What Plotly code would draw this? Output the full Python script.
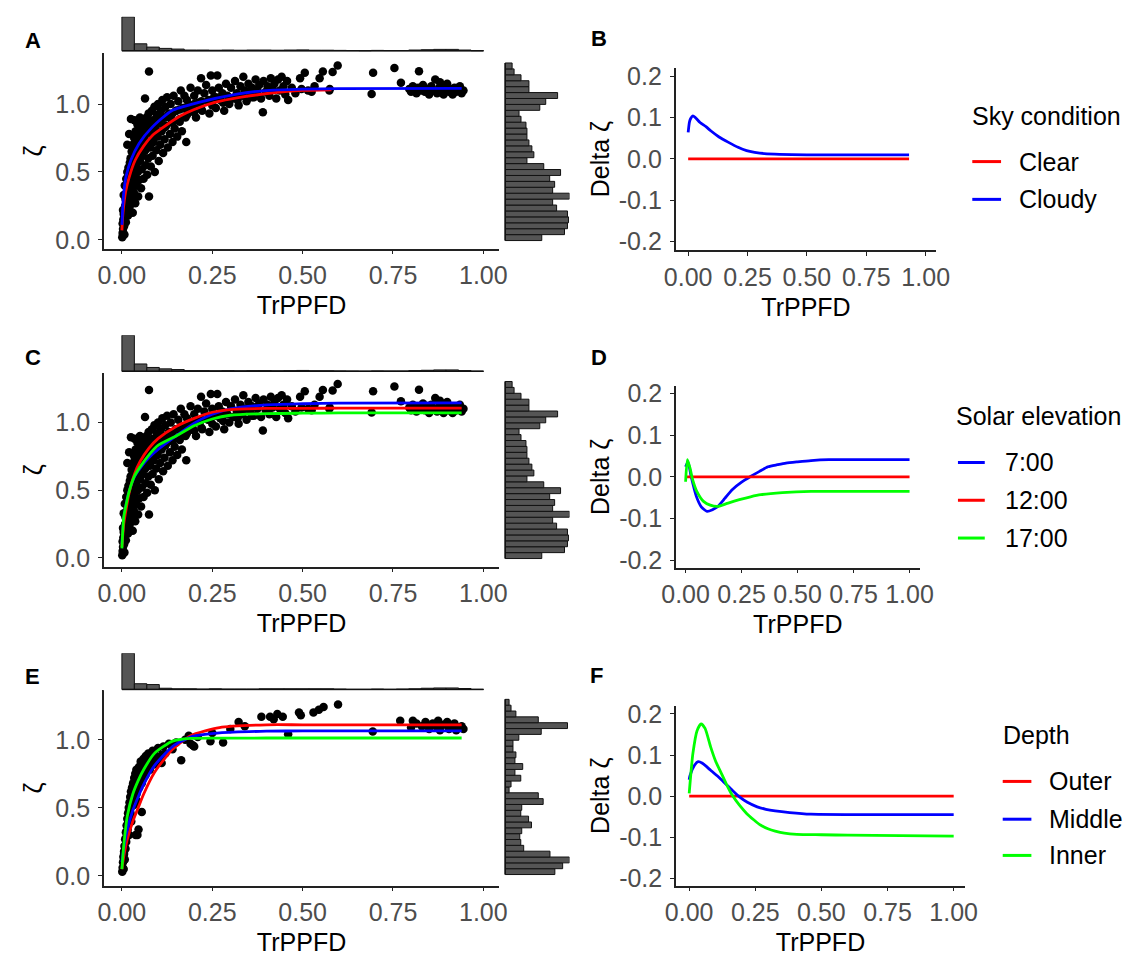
import plotly.graph_objects as go

W, H = 1136, 965
FONT = "Liberation Sans, Arial, sans-serif"
FS = 25
RED, BLUE, GREEN = "#FF0000", "#0000FF", "#00FF00"

# ---------------- data: scatter (panels A and C, all observations) ----------------
ALL_X = [0.001, 0.002, 0.003, 0.002, 0.004, 0.005, 0.003, 0.006, 0.007, 0.008, 0.009, 0.010, 0.011, 0.012,
         0.014, 0.015, 0.016, 0.017, 0.018, 0.019, 0.020, 0.021, 0.022, 0.023, 0.024, 0.025, 0.026, 0.027, 0.028, 0.029, 0.030, 0.030,
         0.020, 0.025, 0.015, 0.035,
         0.032, 0.033, 0.034, 0.035, 0.036, 0.037, 0.038, 0.039, 0.040, 0.041, 0.042, 0.043, 0.044, 0.045, 0.046, 0.047, 0.048, 0.050, 0.050,
         0.052, 0.053, 0.054, 0.055, 0.057, 0.058, 0.060, 0.061, 0.062, 0.064, 0.065, 0.066, 0.068, 0.069, 0.070, 0.071, 0.073, 0.074, 0.075, 0.075, 0.076, 0.078, 0.080,
         0.082, 0.083, 0.085, 0.086, 0.088, 0.090, 0.091, 0.093, 0.095, 0.097, 0.099, 0.100, 0.102, 0.104, 0.106, 0.108, 0.110, 0.112, 0.114, 0.116, 0.118, 0.120,
         0.122, 0.125, 0.127, 0.130, 0.133, 0.135, 0.138, 0.140, 0.143, 0.146, 0.150, 0.153, 0.156, 0.160, 0.163, 0.166, 0.170, 0.173, 0.176, 0.178, 0.180,
         0.185, 0.190, 0.195, 0.200, 0.205, 0.210, 0.215, 0.219, 0.222, 0.228, 0.233, 0.238, 0.242, 0.246, 0.250, 0.255, 0.260, 0.264, 0.268, 0.272, 0.278, 0.283, 0.288, 0.292, 0.297,
         0.302, 0.308, 0.313, 0.318, 0.323, 0.328, 0.333, 0.336, 0.340, 0.345, 0.350, 0.355, 0.360, 0.365, 0.370, 0.375, 0.380, 0.385, 0.390, 0.392, 0.398, 0.403, 0.408, 0.412, 0.417, 0.422, 0.427, 0.432, 0.437, 0.442, 0.447, 0.452, 0.457, 0.460,
         0.470, 0.480, 0.493, 0.497, 0.506, 0.515, 0.525, 0.533, 0.547, 0.556, 0.574, 0.583, 0.597, 0.575,
         0.691, 0.695, 0.754, 0.772, 0.822,
         0.795, 0.800, 0.805, 0.810, 0.815, 0.820, 0.827, 0.833, 0.838, 0.845, 0.850, 0.856, 0.862, 0.867, 0.872, 0.878, 0.880, 0.885, 0.890, 0.896, 0.900, 0.905, 0.910, 0.915, 0.920, 0.925, 0.930, 0.935, 0.940, 0.945,
         0.005, 0.008, 0.012, 0.015, 0.018, 0.022, 0.026, 0.030, 0.035, 0.040, 0.045, 0.050, 0.055, 0.060, 0.065, 0.070, 0.080, 0.090, 0.100, 0.110, 0.120, 0.130, 0.140, 0.150, 0.160, 0.170, 0.180, 0.190, 0.200, 0.210, 0.220, 0.240, 0.260,
         0.010, 0.020, 0.030, 0.040, 0.050, 0.060, 0.070, 0.080, 0.090, 0.100, 0.120, 0.140, 0.160, 0.180, 0.200, 0.220, 0.250, 0.280, 0.320, 0.360]
ALL_Y = [0.02, 0.05, 0.08, 0.12, 0.15, 0.19, 0.22, 0.10, 0.04, 0.17, 0.25, 0.30, 0.13, 0.21,
         0.35, 0.28, 0.42, 0.18, 0.50, 0.32, 0.45, 0.24, 0.55, 0.38, 0.60, 0.48, 0.30, 0.65, 0.52, 0.42, 0.70, 0.20,
         0.78, 0.89, 0.70, 0.88,
         0.58, 0.35, 0.75, 0.46, 0.66, 0.27, 0.80, 0.55, 0.40, 0.72, 0.62, 0.85, 0.50, 0.32, 0.78, 0.68, 0.44, 0.90, 0.58,
         0.82, 0.38, 0.70, 0.52, 0.88, 0.62, 0.45, 0.76, 0.84, 1.04, 0.66, 0.55, 0.90, 0.72, 0.48, 0.80, 0.60, 0.93, 1.24, 0.32, 0.86, 0.68, 0.54,
         0.78, 0.95, 0.62, 0.88, 0.72, 0.98, 0.50, 0.83, 0.66, 0.92, 0.76, 1.00, 0.58, 0.86, 0.70, 0.95, 0.80, 1.03, 0.64, 0.90, 0.74, 0.98,
         0.84, 1.05, 0.68, 0.93, 0.78, 1.00, 0.88, 0.72, 1.06, 0.82, 0.95, 0.76, 1.02, 0.87, 1.10, 0.80, 0.97, 1.06, 0.90, 0.72, 1.03,
         0.94, 1.12, 0.98, 1.06, 0.90, 1.10, 1.00, 1.19, 0.95, 1.08, 1.14, 1.02, 0.93, 1.21, 1.10, 1.05, 0.97, 1.21, 1.12, 1.03, 1.08, 0.95, 1.15, 1.06, 1.00,
         1.12, 1.04, 1.17, 1.08, 0.99, 1.13, 1.06, 1.20, 1.10, 1.02, 1.15, 1.08, 1.12, 1.05, 1.18, 1.10, 1.14, 1.04, 0.94, 1.17, 1.09, 1.13, 1.06, 1.19, 1.11, 1.15, 1.04, 1.18, 1.10, 1.20, 1.13, 1.07, 1.17, 1.03,
         1.12, 1.08, 1.19, 1.11, 1.23, 1.10, 1.09, 1.13, 1.19, 1.24, 1.10, 1.235, 1.283, 1.11,
         1.073, 1.23, 1.266, 1.157, 1.242,
         1.11, 1.09, 1.13, 1.10, 1.08, 1.12, 1.10, 1.14, 1.09, 1.11, 1.07, 1.13, 1.10, 1.18, 1.08, 1.12, 1.16, 1.10, 1.07, 1.13, 1.15, 1.09, 1.11, 1.07, 1.12, 1.09, 1.10, 1.13, 1.08, 1.10,
         0.33, 0.40, 0.45, 0.50, 0.53, 0.57, 0.60, 0.62, 0.65, 0.68, 0.70, 0.72, 0.74, 0.76, 0.78, 0.80, 0.82, 0.85, 0.87, 0.89, 0.90, 0.92, 0.93, 0.95, 0.96, 0.97, 0.98, 0.99, 1.00, 1.01, 1.02, 1.03, 1.05,
         0.25, 0.40, 0.50, 0.57, 0.62, 0.67, 0.70, 0.73, 0.76, 0.79, 0.83, 0.86, 0.89, 0.92, 0.94, 0.96, 0.99, 1.01, 1.03, 1.05]

# ---------------- data: scatter (panel E) ----------------
E_X = [0.001, 0.002, 0.003, 0.004, 0.005, 0.006, 0.007, 0.008, 0.009, 0.010, 0.011, 0.012, 0.013, 0.014, 0.015, 0.016, 0.017, 0.018, 0.019, 0.020,
       0.021, 0.022, 0.023, 0.024, 0.025, 0.026, 0.027, 0.028, 0.030, 0.031, 0.033, 0.034, 0.035, 0.037, 0.038, 0.039, 0.040, 0.042, 0.043, 0.044,
       0.046, 0.047, 0.050, 0.052, 0.055, 0.055, 0.058, 0.060, 0.063, 0.066, 0.070, 0.073, 0.077, 0.080, 0.085, 0.090, 0.095, 0.100, 0.105, 0.110,
       0.115, 0.120, 0.130, 0.140, 0.150, 0.164, 0.175, 0.185, 0.190, 0.196, 0.200, 0.210, 0.245, 0.280, 0.250, 0.300, 0.323, 0.340, 0.386, 0.410,
       0.420, 0.430, 0.445, 0.460, 0.490, 0.495, 0.530, 0.545, 0.558, 0.598, 0.694, 0.770, 0.805, 0.830, 0.840, 0.850, 0.860, 0.870, 0.875, 0.880,
       0.890, 0.900, 0.905, 0.910, 0.920, 0.925, 0.930, 0.940, 0.945, 0.800, 0.815,
       0.006, 0.012, 0.018, 0.024, 0.032, 0.040, 0.048, 0.056, 0.065, 0.075, 0.088, 0.100, 0.112]
E_Y = [0.03, 0.06, 0.10, 0.14, 0.05, 0.18, 0.22, 0.12, 0.27, 0.20, 0.32, 0.25, 0.37, 0.30, 0.42, 0.34, 0.46, 0.40, 0.50, 0.30,
       0.54, 0.45, 0.58, 0.50, 0.62, 0.40, 0.56, 0.65, 0.60, 0.68, 0.52, 0.72, 0.64, 0.75, 0.30, 0.68, 0.78, 0.55, 0.30, 0.72,
       0.34, 0.80, 0.76, 0.84, 0.68, 0.47, 0.80, 0.86, 0.74, 0.88, 0.82, 0.90, 0.78, 0.86, 0.92, 0.82, 0.88, 0.94, 0.86, 0.83,
       0.95, 0.90, 0.97, 0.93, 0.98, 0.85, 1.00, 1.03, 0.97, 0.96, 0.95, 1.02, 0.99, 0.98, 1.05, 1.08, 1.13, 1.10, 1.17, 1.17,
       1.15, 1.19, 1.17, 1.04, 1.20, 1.18, 1.20, 1.22, 1.24, 1.26, 1.06, 1.14, 1.14, 1.10, 1.13, 1.08, 1.12, 1.10, 1.14, 1.07,
       1.11, 1.13, 1.08, 1.10, 1.12, 1.07, 1.09, 1.10, 1.08, 1.09, 1.12,
       0.16, 0.28, 0.38, 0.46, 0.54, 0.60, 0.65, 0.70, 0.74, 0.78, 0.82, 0.86, 0.89]

# ---------------- data: fitted curves ----------------
A_CLEAR_X = [0, 0.003, 0.01, 0.02, 0.037, 0.06, 0.085, 0.115, 0.16, 0.2, 0.255, 0.33, 0.43, 0.5, 0.58]
A_CLEAR_Y = [0.07, 0.2, 0.35, 0.46, 0.588, 0.69, 0.77, 0.83, 0.91, 0.96, 1.01, 1.05, 1.085, 1.1, 1.105]
A_CLOUDY_X = [0, 0.002, 0.005, 0.0116, 0.025, 0.0475, 0.084, 0.138, 0.21, 0.318, 0.39, 0.5, 0.6, 0.94]
A_CLOUDY_Y = [0.11, 0.225, 0.346, 0.467, 0.588, 0.71, 0.83, 0.951, 1.01, 1.073, 1.097, 1.11, 1.113, 1.115]

C_X = [0, 0.005, 0.011, 0.02, 0.035, 0.05, 0.075, 0.1, 0.15, 0.2, 0.25, 0.3, 0.4, 0.5, 0.6, 0.94]
C_0700_Y = [0.10, 0.29, 0.385, 0.49, 0.60, 0.66, 0.74, 0.80, 0.90, 0.995, 1.06, 1.10, 1.13, 1.138, 1.143, 1.145]
C_1200_Y = [0.08, 0.25, 0.35, 0.48, 0.62, 0.71, 0.81, 0.88, 0.97, 1.03, 1.075, 1.095, 1.103, 1.104, 1.105, 1.105]
C_1700_Y = [0.07, 0.30, 0.385, 0.49, 0.605, 0.67, 0.76, 0.83, 0.90, 0.975, 1.025, 1.053, 1.065, 1.068, 1.07, 1.07]

E_CX = [0, 0.005, 0.015, 0.03, 0.045, 0.06, 0.09, 0.14, 0.19, 0.27, 0.4, 0.5, 0.94]
E_OUTER_Y = [0.05, 0.14, 0.27, 0.40, 0.50, 0.60, 0.76, 0.93, 1.03, 1.09, 1.11, 1.11, 1.11]
E_MIDDLE_Y = [0.10, 0.20, 0.34, 0.48, 0.58, 0.67, 0.81, 0.95, 1.02, 1.05, 1.063, 1.065, 1.065]
E_INNER_Y = [0.05, 0.22, 0.44, 0.60, 0.70, 0.78, 0.90, 0.99, 1.01, 1.012, 1.013, 1.013, 1.013]

# ---------------- data: differences (Delta zeta) ----------------
B_CLEAR_X = [0, 0.93]
B_CLEAR_Y = [0, 0]
B_CLOUDY_X = [0, 0.005, 0.01, 0.02, 0.03, 0.05, 0.075, 0.095, 0.13, 0.17, 0.21, 0.246, 0.28, 0.32, 0.5, 0.93]
B_CLOUDY_Y = [0.064, 0.088, 0.097, 0.104, 0.1, 0.088, 0.078, 0.068, 0.053, 0.04, 0.028, 0.02, 0.016, 0.013, 0.01, 0.01]

D_0700_X = [0, 0.011, 0.025, 0.048, 0.07, 0.096, 0.12, 0.144, 0.175, 0.208, 0.25, 0.288, 0.33, 0.368, 0.41, 0.448, 0.5, 0.56, 0.64, 1.0]
D_0700_Y = [0.024, 0.035, 0.0, -0.047, -0.072, -0.083, -0.079, -0.071, -0.052, -0.031, -0.013, 0.0, 0.013, 0.024, 0.029, 0.033, 0.036, 0.039, 0.041, 0.041]
D_1200_X = [0, 1.0]
D_1200_Y = [0, 0]
D_1700_X = [0, 0.008, 0.02, 0.032, 0.05, 0.08, 0.11, 0.144, 0.19, 0.24, 0.29, 0.336, 0.432, 0.56, 0.7, 1.0]
D_1700_Y = [-0.012, 0.041, 0.02, -0.008, -0.035, -0.059, -0.068, -0.071, -0.063, -0.055, -0.048, -0.043, -0.038, -0.035, -0.035, -0.035]

F_OUTER_X = [0, 1.0]
F_OUTER_Y = [0, 0]
F_MIDDLE_X = [0, 0.003, 0.02, 0.034, 0.05, 0.081, 0.11, 0.136, 0.16, 0.19, 0.22, 0.257, 0.29, 0.325, 0.38, 0.46, 0.6, 1.0]
F_MIDDLE_Y = [0.04, 0.05, 0.075, 0.084, 0.08, 0.063, 0.047, 0.031, 0.016, -0.002, -0.015, -0.026, -0.032, -0.036, -0.04, -0.044, -0.045, -0.045]
F_INNER_X = [0, 0.014, 0.03, 0.045, 0.06, 0.081, 0.1, 0.122, 0.14, 0.163, 0.19, 0.217, 0.245, 0.271, 0.3, 0.325, 0.36, 0.407, 0.5, 0.6, 1.0]
F_INNER_Y = [0.007, 0.104, 0.16, 0.176, 0.165, 0.12, 0.085, 0.055, 0.03, 0.002, -0.022, -0.042, -0.058, -0.071, -0.08, -0.085, -0.09, -0.093, -0.094, -0.095, -0.0975]

# ---------------- data: marginal histograms ----------------
TOP_BIN_START, TOP_BIN_WIDTH = 0.0, 0.0345
TOP_COUNTS_ALL = [206, 42, 22, 14, 10, 4, 4, 3, 4, 3, 4, 4, 3, 4, 5, 3, 3, 2, 1, 0, 2, 1, 1, 4, 6, 8, 8, 4, 0]
TOP_COUNTS_E = [128, 20, 17, 4, 2, 2, 1, 2, 1, 1, 1, 2, 2, 2, 2, 2, 2, 1, 0, 0, 1, 0, 1, 2, 4, 5, 5, 3, 0]
RIGHT_BIN_START_ALL, RIGHT_BIN_WIDTH_ALL = -0.005, 0.04357
RIGHT_COUNTS_ALL = [37, 60, 63, 64, 63, 52, 48, 65, 48, 50, 45, 56, 39, 22, 29, 27, 24, 22, 22, 21, 16, 14, 35, 41, 53, 24, 24, 16, 9, 7]
RIGHT_BIN_START_E, RIGHT_BIN_WIDTH_E = 0.01, 0.0429
RIGHT_COUNTS_E = [51, 59, 66, 46, 19, 16, 15, 17, 27, 24, 16, 17, 39, 34, 4, 6, 16, 10, 18, 10, 11, 8, 8, 14, 37, 64, 34, 11, 6, 4]

# ---------------- tick labels & legend levels ----------------
X_TICKS = [0, 0.25, 0.5, 0.75, 1.0]
X_TICK_LABELS = ["0.00", "0.25", "0.50", "0.75", "1.00"]
Z_TICKS = [0, 0.5, 1.0]
Z_TICK_LABELS = ["0.0", "0.5", "1.0"]
D_TICKS = [-0.2, -0.1, 0, 0.1, 0.2]
D_TICK_LABELS = ["-0.2", "-0.1", "0.0", "0.1", "0.2"]
SKY_LEVELS = ["Clear", "Cloudy"]
SOLAR_LEVELS = ["7:00", "12:00", "17:00"]
DEPTH_LEVELS = ["Outer", "Middle", "Inner"]


def px(p):
    return p / W


def py(p):
    return 1 - p / H


fig = go.Figure()
layout = dict(width=W, height=H, margin=dict(l=0, r=0, t=0, b=0),
              paper_bgcolor="white", plot_bgcolor="white", showlegend=False,
              font=dict(family=FONT, size=FS, color="black"))
annotations, shapes = [], []

AXLINE = dict(showline=True, linecolor="#222222", linewidth=1.5, ticks="outside", ticklen=4,
              tickcolor="#222222", tickwidth=1.3, showgrid=False, zeroline=False,
              tickfont=dict(family=FONT, size=FS, color="#4D4D4D"))


def names(i):
    return ("xaxis" if i == 1 else f"xaxis{i}", "yaxis" if i == 1 else f"yaxis{i}",
            "x" if i == 1 else f"x{i}", "y" if i == 1 else f"y{i}")


SC_X = (92.1, 497.5)
SC_XR = [-0.05, 1.044]
RH_X = (503.6, 569.5)

rows = [
    dict(sc_y=(46.7, 245), sc_yr=[-0.065, 1.375], th=(10, 44.3), top=TOP_COUNTS_ALL,
         right=RIGHT_COUNTS_ALL, rstart=RIGHT_BIN_START_ALL, rwidth=RIGHT_BIN_WIDTH_ALL,
         sx=ALL_X, sy=ALL_Y,
         curves=[(A_CLEAR_X, A_CLEAR_Y, RED), (A_CLOUDY_X, A_CLOUDY_Y, BLUE)],
         dl_x=(678.3, 945.7), dl_y=(61.7, 246.7), dl_xr=[-0.053, 1.045], dl_yr=[-0.221, 0.22],
         deltas=[(B_CLEAR_X, B_CLEAR_Y, RED), (B_CLOUDY_X, B_CLOUDY_Y, BLUE)],
         lab=("A", 19, 33.5), lab2=("B", 600, 32.3)),
    dict(sc_y=(370.7, 567.3), sc_yr=[-0.065, 1.367], th=(332.7, 369.3), top=TOP_COUNTS_ALL,
         right=RIGHT_COUNTS_ALL, rstart=RIGHT_BIN_START_ALL, rwidth=RIGHT_BIN_WIDTH_ALL,
         sx=ALL_X, sy=ALL_Y,
         curves=[(C_X, C_0700_Y, BLUE), (C_X, C_1200_Y, RED), (C_X, C_1700_Y, GREEN)],
         dl_x=(678.7, 928.5), dl_y=(384.3, 568.3), dl_xr=[-0.043, 1.045], dl_yr=[-0.218, 0.2175],
         deltas=[(D_0700_X, D_0700_Y, BLUE), (D_1200_X, D_1200_Y, RED), (D_1700_X, D_1700_Y, GREEN)],
         lab=("C", 19.6, 355), lab2=("D", 600, 355)),
    dict(sc_y=(692.7, 890.7), sc_yr=[-0.072, 1.363], th=(655, 691.7), top=TOP_COUNTS_E,
         right=RIGHT_COUNTS_E, rstart=RIGHT_BIN_START_E, rwidth=RIGHT_BIN_WIDTH_E,
         sx=E_X, sy=E_Y,
         curves=[(E_CX, E_OUTER_Y, RED), (E_CX, E_MIDDLE_Y, BLUE), (E_CX, E_INNER_Y, GREEN)],
         dl_x=(678.7, 975.1), dl_y=(708.3, 890.7), dl_xr=[-0.05, 1.043], dl_yr=[-0.218, 0.22],
         deltas=[(F_OUTER_X, F_OUTER_Y, RED), (F_MIDDLE_X, F_MIDDLE_Y, BLUE), (F_INNER_X, F_INNER_Y, GREEN)],
         lab=("E", 19, 679), lab2=("F", 597, 678)),
]

HIST_FILL = "#555555"
for r, row in enumerate(rows):
    s, t, rr, d = 4 * r + 1, 4 * r + 2, 4 * r + 3, 4 * r + 4
    # ---- scatter panel ----
    xa, ya, xr, yr = names(s)
    layout[xa] = dict(AXLINE, domain=[px(SC_X[0]), px(SC_X[1])], range=SC_XR, anchor=yr,
                      tickvals=X_TICKS, ticktext=X_TICK_LABELS, ticklabelstandoff=0,
                      title=dict(text="TrPPFD", font=dict(size=FS, color="black"), standoff=8))
    layout[ya] = dict(AXLINE, domain=[py(row["sc_y"][1]), py(row["sc_y"][0])], range=row["sc_yr"],
                      anchor=xr, tickvals=Z_TICKS, ticktext=Z_TICK_LABELS, ticklabelstandoff=3,
                      title=dict(text="ζ", font=dict(size=FS, color="black"), standoff=6))
    fig.add_trace(go.Scatter(x=row["sx"], y=row["sy"], mode="markers", xaxis=xr, yaxis=yr,
                             marker=dict(size=8.5, color="black"), hoverinfo="skip"))
    for cx, cy, col in row["curves"]:
        fig.add_trace(go.Scatter(x=cx, y=cy, mode="lines", xaxis=xr, yaxis=yr,
                                 line=dict(color=col, width=2.8, shape="spline", smoothing=0.6)))

    # ---- top marginal histogram ----
    xa, ya, xr, yr = names(t)
    counts = row["top"]
    cmax = max(counts)
    top_px, base_px = row["th"]
    ppc = (base_px - top_px) / cmax
    pad = 1.5
    layout[xa] = dict(domain=[px(SC_X[0]), px(SC_X[1])], range=SC_XR, anchor=yr, visible=False)
    layout[ya] = dict(domain=[py(base_px + pad), py(top_px)], range=[-pad / ppc, cmax], anchor=xr, visible=False)
    centers = [TOP_BIN_START + TOP_BIN_WIDTH * (i + 0.5) for i in range(len(counts))]
    fig.add_trace(go.Bar(x=centers, y=counts, width=TOP_BIN_WIDTH, xaxis=xr, yaxis=yr,
                         marker=dict(color=HIST_FILL, line=dict(color="#111111", width=1))))
    edge0, edge1 = TOP_BIN_START, TOP_BIN_START + TOP_BIN_WIDTH * len(counts)
    fig.add_trace(go.Scatter(x=[edge0, edge1], y=[0, 0], mode="lines", xaxis=xr, yaxis=yr,
                             line=dict(color="#111111", width=1.5)))

    # ---- right marginal histogram ----
    xa, ya, xr, yr = names(rr)
    counts = row["right"]
    cmax = max(counts)
    ppc = (RH_X[1] - RH_X[0]) / cmax
    layout[xa] = dict(domain=[px(RH_X[0] - pad), px(RH_X[1])], range=[-pad / ppc, cmax], anchor=yr, visible=False)
    layout[ya] = dict(domain=[py(row["sc_y"][1]), py(row["sc_y"][0])], range=row["sc_yr"], anchor=xr, visible=False)
    centers = [row["rstart"] + row["rwidth"] * (i + 0.5) for i in range(len(counts))]
    fig.add_trace(go.Bar(y=centers, x=counts, width=row["rwidth"], orientation="h", xaxis=xr, yaxis=yr,
                         marker=dict(color=HIST_FILL, line=dict(color="#111111", width=1))))
    edge0, edge1 = row["rstart"], row["rstart"] + row["rwidth"] * len(counts)
    fig.add_trace(go.Scatter(x=[0, 0], y=[edge0, edge1], mode="lines", xaxis=xr, yaxis=yr,
                             line=dict(color="#111111", width=1.5)))

    # ---- delta panel ----
    xa, ya, xr, yr = names(d)
    layout[xa] = dict(AXLINE, domain=[px(row["dl_x"][0]), px(row["dl_x"][1])], range=row["dl_xr"], anchor=yr,
                      tickvals=X_TICKS, ticktext=X_TICK_LABELS, ticklabelstandoff=0,
                      title=dict(text="TrPPFD", font=dict(size=FS, color="black"), standoff=8))
    layout[ya] = dict(AXLINE, domain=[py(row["dl_y"][1]), py(row["dl_y"][0])], range=row["dl_yr"], anchor=xr,
                      tickvals=D_TICKS, ticktext=D_TICK_LABELS, ticklabelstandoff=3,
                      title=dict(text="Delta ζ", font=dict(size=FS, color="black"), standoff=2))
    for cx, cy, col in row["deltas"]:
        fig.add_trace(go.Scatter(x=cx, y=cy, mode="lines", xaxis=xr, yaxis=yr,
                                 line=dict(color=col, width=2.8, shape="spline", smoothing=0.6)))

    # panel letters
    for txt, lx, ly in (row["lab"], row["lab2"]):
        annotations.append(dict(text=f"<b>{txt}</b>", x=px(lx), y=py(ly), xref="paper", yref="paper",
                                showarrow=False, xanchor="center", yanchor="middle",
                                font=dict(family=FONT, size=22, color="black")))

# ---------------- legends ----------------
legends = [
    dict(title="Sky condition", tx=980.6, ty=110, key=(982.5, 1012), text_x=1028.4,
         items=list(zip(SKY_LEVELS, [RED, BLUE], [156.7, 195]))),
    dict(title="Solar elevation", tx=964, ty=415, key=(967.8, 995.3), text_x=1013.7,
         items=list(zip(SOLAR_LEVELS, [BLUE, RED, GREEN], [461.7, 500, 538.3]))),
    dict(title="Depth", tx=1011.9, ty=738.3, key=(1013.7, 1043.1), text_x=1059.6,
         items=list(zip(DEPTH_LEVELS, [RED, BLUE, GREEN], [785, 823.3, 860]))),
]
for lg in legends:
    annotations.append(dict(text=lg["title"], x=px(lg["tx"]), y=py(lg["ty"]), xref="paper", yref="paper",
                            showarrow=False, xanchor="left", yanchor="middle",
                            font=dict(family=FONT, size=FS, color="black")))
    for name, col, yy in lg["items"]:
        shapes.append(dict(type="line", xref="paper", yref="paper", x0=px(lg["key"][0]), x1=px(lg["key"][1]),
                           y0=py(yy), y1=py(yy), line=dict(color=col, width=3)))
        annotations.append(dict(text=name, x=px(lg["text_x"]), y=py(yy), xref="paper", yref="paper",
                                showarrow=False, xanchor="left", yanchor="middle",
                                font=dict(family=FONT, size=FS, color="black")))

layout["annotations"] = annotations
layout["shapes"] = shapes
fig.update_layout(**layout)
fig.write_html("out.html", config={"displayModeBar": False},
               post_script="document.body.style.margin='0';document.body.style.overflow='hidden';")
